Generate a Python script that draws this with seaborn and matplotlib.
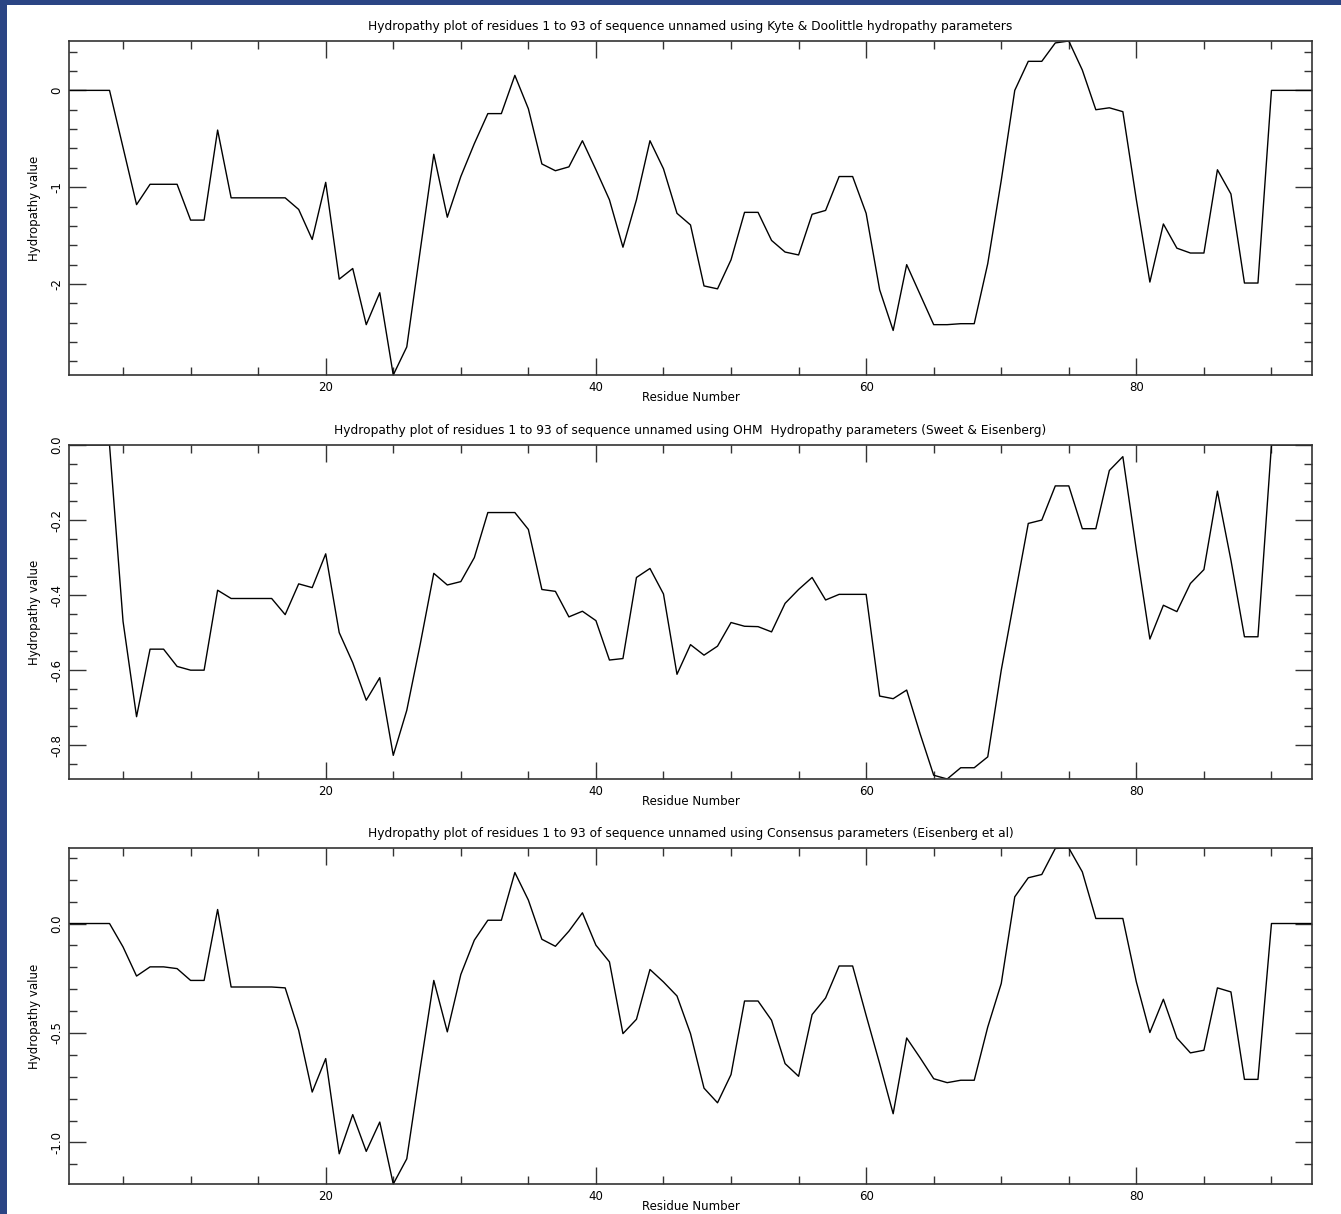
import numpy as np
import pandas as pd
import seaborn as sns
import matplotlib
matplotlib.use("Agg")
import matplotlib.pyplot as plt
from matplotlib.ticker import MultipleLocator, FuncFormatter
from matplotlib.patches import Rectangle

# residues 1..93
residues = list(range(1, 94))

# Kyte & Doolittle
kd = [0, 0, 0, 0, -0.59, -1.18, -0.97, -0.97, -0.97, -1.34,
      -1.34, -0.41, -1.11, -1.11, -1.11, -1.11, -1.11, -1.23, -1.54, -0.95,
      -1.95, -1.84, -2.42, -2.09, -2.94, -2.65, -1.65, -0.66, -1.31, -0.89,
      -0.55, -0.24, -0.24, 0.155, -0.19, -0.76, -0.83, -0.79, -0.52, -0.82,
      -1.13, -1.62, -1.13, -0.52, -0.81, -1.27, -1.39, -2.02, -2.05, -1.75,
      -1.26, -1.26, -1.55, -1.67, -1.70, -1.28, -1.24, -0.89, -0.89, -1.27,
      -2.06, -2.48, -1.80, -2.11, -2.42, -2.42, -2.41, -2.41, -1.79, -0.93,
      0.0, 0.30, 0.30, 0.49, 0.51, 0.21, -0.20, -0.18, -0.22, -1.13,
      -1.98, -1.38, -1.63, -1.68, -1.68, -0.82, -1.07, -1.99, -1.99, 0,
      0, 0, 0]

# OHM (Sweet & Eisenberg)
ohm = [0, 0, 0, 0, -0.47, -0.724, -0.544, -0.544, -0.59, -0.60,
       -0.60, -0.387, -0.409, -0.409, -0.409, -0.409, -0.452, -0.37, -0.38, -0.29,
       -0.50, -0.58, -0.68, -0.62, -0.827, -0.707, -0.53, -0.342, -0.373, -0.364,
       -0.30, -0.18, -0.18, -0.18, -0.225, -0.385, -0.39, -0.458, -0.443, -0.468,
       -0.573, -0.569, -0.353, -0.329, -0.397, -0.611, -0.532, -0.56, -0.536, -0.473,
       -0.483, -0.484, -0.498, -0.422, -0.385, -0.353, -0.413, -0.398, -0.398, -0.398,
       -0.669, -0.676, -0.653, -0.77, -0.88, -0.89, -0.86, -0.86, -0.831, -0.60,
       -0.404, -0.209, -0.20, -0.109, -0.109, -0.223, -0.223, -0.068, -0.031, -0.28,
       -0.517, -0.427, -0.444, -0.369, -0.332, -0.123, -0.307, -0.511, -0.511, 0,
       0, 0, 0]

# Consensus (Eisenberg et al)
cons = [0, 0, 0, 0, -0.107, -0.24, -0.198, -0.198, -0.206, -0.26,
        -0.26, 0.064, -0.29, -0.29, -0.29, -0.29, -0.294, -0.488, -0.77, -0.617,
        -1.052, -0.873, -1.041, -0.907, -1.19, -1.075, -0.66, -0.26, -0.495, -0.233,
        -0.076, 0.015, 0.015, 0.233, 0.107, -0.072, -0.104, -0.035, 0.049, -0.099,
        -0.175, -0.503, -0.4375, -0.21, -0.267, -0.331, -0.503, -0.752, -0.819, -0.69,
        -0.354, -0.354, -0.442, -0.64, -0.698, -0.416, -0.34, -0.194, -0.194, -0.42,
        -0.64, -0.869, -0.523, -0.614, -0.709, -0.727, -0.716, -0.716, -0.473, -0.274,
        0.122, 0.209, 0.224, 0.343, 0.345, 0.236, 0.023, 0.023, 0.023, -0.267,
        -0.498, -0.346, -0.523, -0.591, -0.579, -0.294, -0.3125, -0.712, -0.712, 0,
        0, 0, 0]

titles = [
    "Hydropathy plot of residues 1 to 93 of sequence unnamed using Kyte & Doolittle hydropathy parameters",
    "Hydropathy plot of residues 1 to 93 of sequence unnamed using OHM  Hydropathy parameters (Sweet & Eisenberg)",
    "Hydropathy plot of residues 1 to 93 of sequence unnamed using Consensus parameters (Eisenberg et al)",
]
series = [kd, ohm, cons]
y_major = [1.0, 0.2, 0.5]
y_minor = [0.2, 0.05, 0.1]
y_fmt = ["{:.0f}", "{:.1f}", "{:.1f}"]

sns.set_style("ticks")
plt.rcParams["font.family"] = ["DejaVu Sans"]
plt.rcParams["font.size"] = 8.5
plt.rcParams["text.color"] = "black"
plt.rcParams["axes.labelcolor"] = "black"
plt.rcParams["xtick.color"] = "black"
plt.rcParams["ytick.color"] = "black"

W, H = 1341, 1214
fig = plt.figure(figsize=(W / 100, H / 100), dpi=100)
fig.patch.set_facecolor("#2b4584")
fig.patches.append(Rectangle((7 / W, 0), 1, 1 - 5 / H, transform=fig.transFigure,
                             facecolor="white", edgecolor="none", zorder=-1))

# axes boxes in pixels: (top, bottom)
boxes = [(41, 375), (445, 779), (848, 1184)]
left, right = 69, 1312

for i, (title, vals) in enumerate(zip(titles, series)):
    top, bot = boxes[i]
    ax = fig.add_axes([left / W, 1 - bot / H, (right - left) / W, (bot - top) / H])
    ax.set_facecolor("white")
    df = pd.DataFrame({"Residue": residues, "Value": vals})
    sns.lineplot(data=df, x="Residue", y="Value", ax=ax, color="black",
                 linewidth=1.0)
    ax.set_xlim(1, 93)
    ax.set_ylim(min(vals), max(vals))
    ax.xaxis.set_major_locator(MultipleLocator(20))
    ax.xaxis.set_minor_locator(MultipleLocator(5))
    ax.yaxis.set_major_locator(MultipleLocator(y_major[i]))
    ax.yaxis.set_minor_locator(MultipleLocator(y_minor[i]))
    fmt = y_fmt[i]
    ax.yaxis.set_major_formatter(FuncFormatter(
        lambda v, p, fmt=fmt: fmt.format(v) if abs(v) > 1e-9 else fmt.format(0)))
    ax.tick_params(which="both", direction="in", top=True, right=True,
                   color="#333333", width=1.0, labelsize=8.5)
    ax.tick_params(which="major", length=12, pad=4)
    ax.tick_params(which="minor", length=6)
    for lab in ax.get_yticklabels():
        lab.set_rotation(90)
        lab.set_va("center")
    for sp in ax.spines.values():
        sp.set_color("#333333")
        sp.set_linewidth(1.2)
        sp.set_visible(True)
    ax.set_title(title, fontsize=8.8, pad=8, color="black")
    ax.set_xlabel("Residue Number", fontsize=8.5, labelpad=-2)
    ax.set_ylabel("Hydropathy value", fontsize=8.5, labelpad=7)

fig.savefig("out.png", dpi=100, facecolor=fig.get_facecolor())
